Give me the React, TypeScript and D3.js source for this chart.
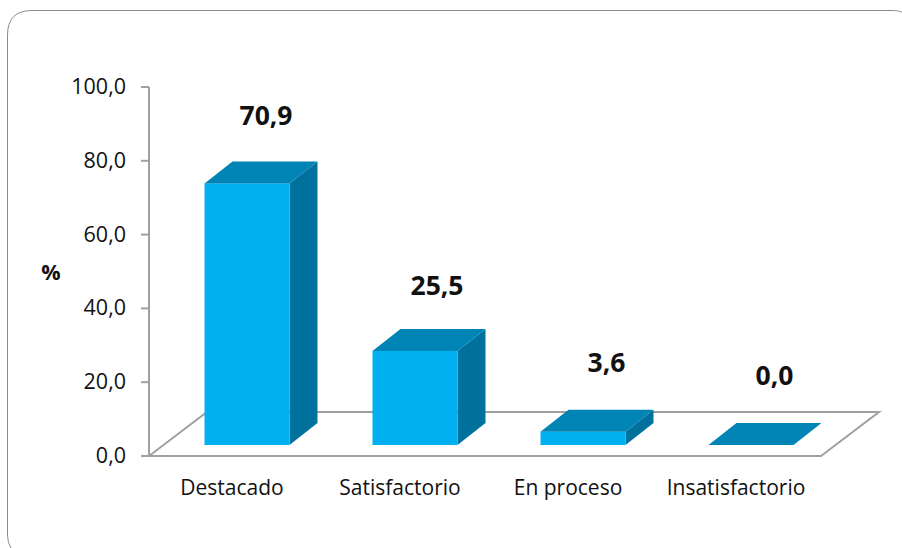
import React from "react";
import * as d3 from "d3";

const categories = ["Destacado", "Satisfactorio", "En proceso", "Insatisfactorio"];
const values = [70.9, 25.5, 3.6, 0.0];
const labels = ["70,9", "25,5", "3,6", "0,0"];
const yTicks = [0, 20, 40, 60, 80, 100];
const labelY = [125, 295, 372, 385];
const labelShift = [61.5, 64.5, 66, 66];

const FONT = "'Open Sans', sans-serif";
const fmt = (v: number) => v.toFixed(1).replace(".", ",");

export default function App() {
  const x = d3.scaleBand<string>().domain(categories).range([149, 821]);
  const y = d3.scaleLinear().domain([0, 100]).range([456, 87]);
  const barW = 85;
  const barOff = 55.5;
  const baseY = 445;
  const h = (v: number) => y(0) - y(v);
  const dx = 28;
  const dy = 22;
  const floor = d3.line()([[149, 456], [821, 456], [879, 412], [207, 412], [149, 456]]) ?? "";
  return (
    <svg width={902} height={548} style={{ position: "absolute", left: 0, top: 0, background: "#fff" }}>
      <path d="M 903 13 Q 900 10.5 892 10.5 L 32 10.5 Q 7.5 10.5 7.5 35 L 7.5 535 Q 7.5 543 11 548" fill="none" stroke="#8c8c8c" strokeWidth={1} />
      <path d={floor} fill="none" stroke="#a0a0a0" strokeWidth={2} />
      <line x1={149} x2={149} y1={87} y2={456} stroke="#a0a0a0" strokeWidth={2} />
      {yTicks.map((t) => (
        <g key={t}>
          <line x1={141} x2={149} y1={y(t)} y2={y(t)} stroke="#a0a0a0" strokeWidth={2} />
          <text x={126} y={y(t) + 7} textAnchor="end" fontFamily={FONT} fontSize={21.5} fill="#111">{fmt(t)}</text>
        </g>
      ))}
      <text x={51} y={280} textAnchor="middle" fontFamily={FONT} fontSize={21.5} fontWeight={700} fill="#111">%</text>
      {categories.map((c, i) => {
        const l = (x(c) ?? 0) + barOff;
        const r = l + barW;
        const t = baseY - h(values[i]);
        const top = d3.line()([[l, t], [r, t], [r + dx, t - dy], [l + dx, t - dy]]) + "Z";
        const side = d3.line()([[r, t], [r + dx, t - dy], [r + dx, baseY - dy], [r, baseY]]) + "Z";
        return (
          <g key={c}>
            {values[i] > 0 && <path d={side} fill="#00709c" />}
            {values[i] > 0 && <rect x={l} y={t} width={barW} height={baseY - t} fill="#00b0f0" />}
            <path d={top} fill="#0084b5" />
            <text x={l + labelShift[i]} y={labelY[i]} textAnchor="middle" fontFamily={FONT} fontSize={26.5} fontWeight={700} fill="#111">{labels[i]}</text>
            <text x={(x(c) ?? 0) + 83} y={495} textAnchor="middle" fontFamily={FONT} fontSize={21} fill="#111">{c}</text>
          </g>
        );
      })}
    </svg>
  );
}
